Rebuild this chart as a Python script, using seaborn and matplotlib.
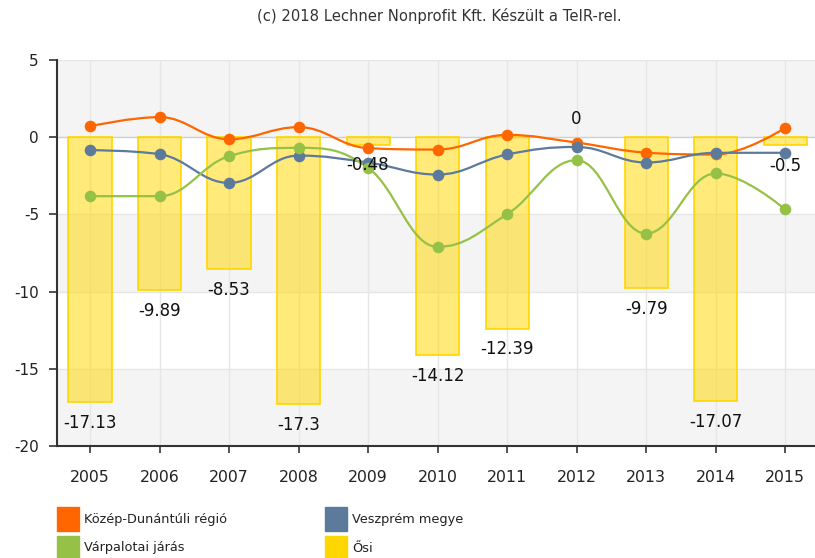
import matplotlib
matplotlib.use("Agg")
import matplotlib.pyplot as plt
import seaborn as sns
import numpy as np
from matplotlib.path import Path
from matplotlib.patches import PathPatch, Rectangle

evek = ['2005', '2006', '2007', '2008', '2009', '2010', '2011', '2012', '2013', '2014', '2015']
kozep_dunantul = [0.71, 1.3, -0.13, 0.65, -0.71, -0.8, 0.15, -0.35, -1.0, -1.12, 0.6]
veszprem = [-0.84, -1.1, -2.96, -1.19, -1.64, -2.42, -1.12, -0.63, -1.64, -1.01, -1.01]
varpalota = [-3.82, -3.82, -1.23, -0.69, -1.98, -7.1, -4.99, -1.49, -6.24, -2.35, -4.68]
osi = [-17.13, -9.89, -8.53, -17.3, -0.48, -14.12, -12.39, 0, -9.79, -17.07, -0.5]
osi_cimkek = ['-17.13', '-9.89', '-8.53', '-17.3', '-0.48', '-14.12', '-12.39', '0', '-9.79', '-17.07', '-0.5']

sorozatok = [
    ('Közép-Dunántúli régió', kozep_dunantul, '#ff6600'),
    ('Veszprém megye', veszprem, '#5c7a9c'),
    ('Várpalotai járás', varpalota, '#96c147'),
]
SARGA = '#ffd700'


def spline_ut(xs, ys, smoothing=1.5):
    """Highcharts-szerű spline vezérlőpontok."""
    n = len(xs)
    bal = [(x, y) for x, y in zip(xs, ys)]
    jobb = [(x, y) for x, y in zip(xs, ys)]
    d = smoothing + 1
    for i in range(1, n - 1):
        px, py = xs[i], ys[i]
        lx, ly = xs[i - 1], ys[i - 1]
        nx, ny = xs[i + 1], ys[i + 1]
        lcx = (smoothing * px + lx) / d
        lcy = (smoothing * py + ly) / d
        rcx = (smoothing * px + nx) / d
        rcy = (smoothing * py + ny) / d
        corr = (rcy - lcy) * (rcx - px) / (rcx - lcx) + py - rcy
        lcy += corr
        rcy += corr
        if lcy > ly and lcy > py:
            lcy = max(ly, py); rcy = 2 * py - lcy
        elif lcy < ly and lcy < py:
            lcy = min(ly, py); rcy = 2 * py - lcy
        if rcy > ny and rcy > py:
            rcy = max(ny, py); lcy = 2 * py - rcy
        elif rcy < ny and rcy < py:
            rcy = min(ny, py); lcy = 2 * py - rcy
        bal[i] = (lcx, lcy)
        jobb[i] = (rcx, rcy)
    verts = [(xs[0], ys[0])]
    codes = [Path.MOVETO]
    for i in range(1, n):
        verts += [jobb[i - 1], bal[i], (xs[i], ys[i])]
        codes += [Path.CURVE4] * 3
    return Path(verts, codes)


sns.set_theme(style='white')
plt.rcParams['font.family'] = ['DejaVu Sans']

fig = plt.figure(figsize=(8.15, 5.58), dpi=100)
W, H = 815, 558
ax = fig.add_axes([57 / W, (H - 446) / H, (815 - 57) / W, (446 - 60) / H])

# sávos háttér
for lo, hi in [(0, 5), (-10, -5), (-20, -15)]:
    ax.axhspan(lo, hi, color='#f4f4f4', zorder=0, lw=0)
for y in [5, -5, -10, -15]:
    ax.axhline(y, color='#e6e6e6', lw=1, zorder=0.5)
ax.axhline(0, color='#cfcfcf', lw=1, zorder=0.5)

x = np.arange(len(evek))
for xi in x:
    ax.axvline(xi, color='#e6e6e6', lw=1, zorder=0.6)

sns.barplot(x=x, y=osi, ax=ax, color=SARGA, width=0.62, saturation=1,
            edgecolor=SARGA, linewidth=1.2, zorder=1)
for p, v in zip(ax.containers[0], osi):
    p.set_edgecolor(SARGA if v != 0 else 'none')
    p.set_facecolor((1.0, 0.843, 0.0, 0.52))

for nev, vals, szin in sorozatok:
    ax.add_patch(PathPatch(spline_ut(list(x.astype(float)), vals), fill=False,
                           edgecolor=szin, lw=1.6, zorder=3))
    sns.scatterplot(x=x, y=vals, ax=ax, color=szin, s=70, linewidth=0,
                    zorder=4, legend=False)

for xi, v, t in zip(x, osi, osi_cimkek):
    off = -15 if v < 0 else 13
    ax.annotate(t, (xi, v), xytext=(0, off), textcoords='offset points',
                ha='center', va='center', fontsize=12, color='#111111', zorder=6)

ax.set_xlim(-0.475, 10.43)
ax.set_ylim(-20, 5)
ax.set_yticks([5, 0, -5, -10, -15, -20])
ax.set_yticklabels(['5', '0', '-5', '-10', '-15', '-20'])
ax.set_xticks(x)
ax.set_xticklabels(evek)
ax.set_xlabel('')
ax.set_ylabel('')
ax.tick_params(axis='y', direction='out', length=6, width=1.2, color='#333333',
               pad=7, labelsize=11, labelcolor='#222222', left=True)
ax.tick_params(axis='x', direction='out', length=5, width=1.2, color='#333333',
               pad=12, labelsize=11.3, labelcolor='#222222', bottom=True)
for s in ['top', 'right']:
    ax.spines[s].set_visible(False)
for s in ['left', 'bottom']:
    ax.spines[s].set_color('#333333')
    ax.spines[s].set_linewidth(1.5)
ax.set_facecolor('white')

fig.text(439 / W, 1 - 16 / H, '(c) 2018 Lechner Nonprofit Kft. Készült a TeIR-rel.',
         ha='center', va='center', fontsize=10.6, color='#333333')

# jelmagyarázat
jm = [('Közép-Dunántúli régió', '#ff6600', 57, 519),
      ('Veszprém megye', '#5c7a9c', 325, 519),
      ('Várpalotai járás', '#96c147', 57, 548),
      ('Ősi', SARGA, 325, 548)]
for nev, szin, px, py in jm:
    fig.patches.append(Rectangle((px / W, 1 - (py + 12) / H), 22 / W, 24 / H,
                                 transform=fig.transFigure, color=szin))
    fig.text((px + 27) / W, 1 - py / H, nev, ha='left', va='center',
             fontsize=9.3, color='#222222')

fig.savefig('out.png', dpi=100)
